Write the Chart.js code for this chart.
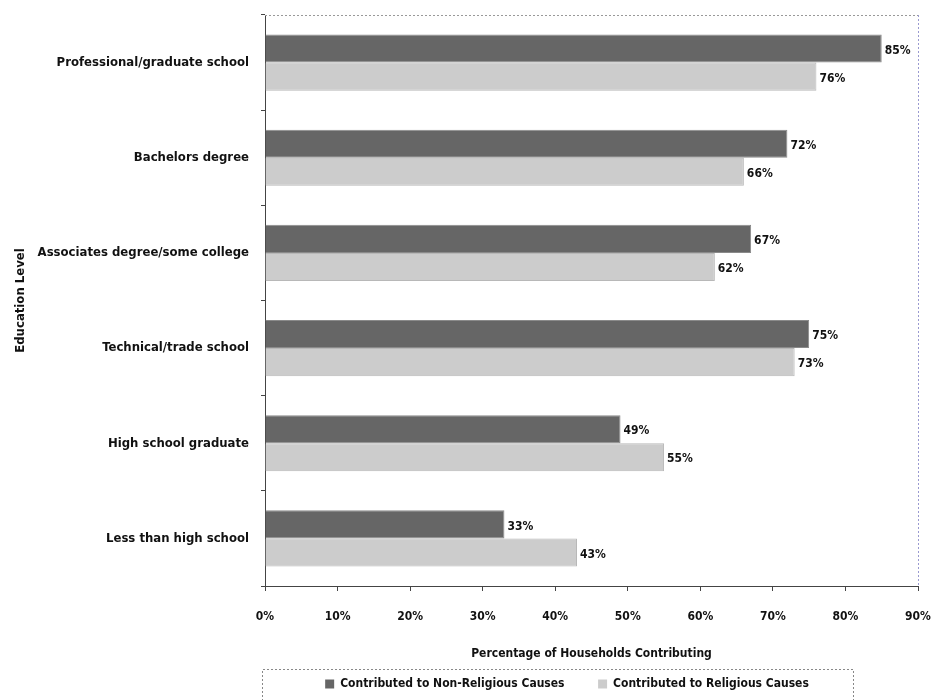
<!DOCTYPE html>
<html>
<head>
<meta charset="utf-8">
<script src="https://cdn.jsdelivr.net/npm/chart.js@4.4.1/dist/chart.umd.min.js"></script>
<style>
html,body{margin:0;padding:0;background:#fff;}
#wrap{width:933px;height:700px;position:relative;}
</style>
</head>
<body>
<div id="wrap"><canvas id="c" width="933" height="700"></canvas></div>
<script>
const categories = [
  "Professional/graduate school",
  "Bachelors degree",
  "Associates degree/some college",
  "Technical/trade school",
  "High school graduate",
  "Less than high school"
];
const nonReligious = [85, 72, 67, 75, 49, 33];
const religious = [76, 66, 62, 73, 55, 43];
const seriesNames = ["Contributed to Non-Religious Causes", "Contributed to Religious Causes"];
const xTitle = "Percentage of Households Contributing";
const yTitle = "Education Level";

const FONT = "'DejaVu Sans Condensed', 'Liberation Sans Narrow', sans-serif";

const valueLabels = {
  id: 'valueLabels',
  afterDatasetsDraw(chart) {
    const ctx = chart.ctx;
    ctx.save();
    ctx.font = "bold 12px " + FONT;
    ctx.fillStyle = "#111";
    ctx.textBaseline = "middle";
    ctx.textAlign = "left";
    chart.data.datasets.forEach((ds, i) => {
      const meta = chart.getDatasetMeta(i);
      meta.data.forEach((bar, j) => {
        ctx.fillText(ds.data[j] + "%", bar.x + 3, bar.y + 2);
      });
    });
    ctx.restore();
  }
};

const frame = {
  id: 'frame',
  afterLayout(chart) {
    const lg = chart.legend;
    const ca = chart.chartArea;
    if (lg) {
      lg.left = ca.left + 16;
      lg.right = ca.left + 588;
    }
  },
  beforeDatasetsDraw(chart) {
    const ctx = chart.ctx;
    const ca = chart.chartArea;
    ctx.save();
    ctx.lineWidth = 1;
    ctx.setLineDash([2, 2]);
    ctx.strokeStyle = "#999";
    ctx.beginPath();
    ctx.moveTo(ca.left, ca.top + 0.5);
    ctx.lineTo(ca.right, ca.top + 0.5);
    ctx.stroke();
    ctx.strokeStyle = "#9a9ad0";
    ctx.beginPath();
    ctx.moveTo(ca.right + 0.5, ca.top);
    ctx.lineTo(ca.right + 0.5, ca.bottom);
    ctx.stroke();
    ctx.restore();
  },
  afterDraw(chart) {
    const ctx = chart.ctx;
    const ca = chart.chartArea;
    const lg = chart.legend;
    ctx.save();
    ctx.lineWidth = 1;
    ctx.setLineDash([2, 2]);
    ctx.strokeStyle = "#888";
    const x0 = ca.left - 3, x1 = ca.left + 588;
    const y0 = lg.top + 2;
    ctx.beginPath();
    ctx.moveTo(x0 + 0.5, chart.height + 5);
    ctx.lineTo(x0 + 0.5, y0 + 0.5);
    ctx.lineTo(x1 + 0.5, y0 + 0.5);
    ctx.lineTo(x1 + 0.5, chart.height + 5);
    ctx.stroke();
    ctx.restore();
  }
};

new Chart(document.getElementById('c'), {
  type: 'bar',
  data: {
    labels: categories,
    datasets: [
      {
        label: seriesNames[0],
        data: nonReligious,
        backgroundColor: "#666666",
        borderColor: "#8a8a8a",
        borderWidth: 1,
        categoryPercentage: 0.59,
        barPercentage: 1.0
      },
      {
        label: seriesNames[1],
        data: religious,
        backgroundColor: "#cccccc",
        borderColor: "#b8b8b8",
        borderWidth: 1,
        categoryPercentage: 0.59,
        barPercentage: 1.0
      }
    ]
  },
  plugins: [valueLabels, frame],
  options: {
    indexAxis: 'y',
    responsive: false,
    animation: false,
    devicePixelRatio: 1,
    layout: { padding: { left: 5, right: 15, top: 15, bottom: 0 } },
    plugins: {
      tooltip: { enabled: false },
      legend: {
        position: 'bottom',
        fullSize: false,
        labels: {
          boxWidth: 9,
          boxHeight: 9,
          padding: 11,
          color: "#111",
          font: { family: FONT, size: 12, weight: 'bold' },
          generateLabels(chart) {
            const items = Chart.defaults.plugins.legend.labels.generateLabels(chart);
            items.forEach((it, i) => {
              if (i === 0) it.text = it.text + "      ";
              it.lineWidth = 0;
            });
            return items;
          }
        }
      }
    },
    scales: {
      x: {
        min: 0,
        max: 90,
        ticks: {
          stepSize: 10,
          padding: 19,
          color: "#111",
          font: { family: FONT, size: 12, weight: 'bold' },
          callback: v => v + "%"
        },
        grid: {
          drawOnChartArea: false,
          drawTicks: true,
          tickLength: 5,
          color: "#444"
        },
        border: { display: true, color: "#444", dash: [3, 2], width: 1 },
        title: {
          display: true,
          text: xTitle,
          color: "#111",
          font: { family: FONT, size: 12, weight: 'bold' },
          padding: { top: 4, bottom: 6 }
        },
        afterFit(scale) {
          scale.height = 81;
          scale.paddingLeft = 0;
          scale.paddingRight = 0;
        }
      },
      y: {
        ticks: {
          padding: 12,
          color: "#111",
          font: { family: FONT, size: 13, weight: 'bold' }
        },
        grid: {
          drawOnChartArea: false,
          drawTicks: true,
          tickLength: 4,
          color: "#444"
        },
        border: { display: true, color: "#444", dash: [3, 2], width: 1 },
        title: {
          display: true,
          text: yTitle,
          color: "#111",
          font: { family: FONT, size: 13, weight: 'bold' },
          padding: { top: 8, bottom: 0 }
        },
        afterFit(scale) {
          scale.width = 260;
          scale.paddingTop = 0;
          scale.paddingBottom = 0;
        }
      }
    }
  }
});
</script>
</body>
</html>
